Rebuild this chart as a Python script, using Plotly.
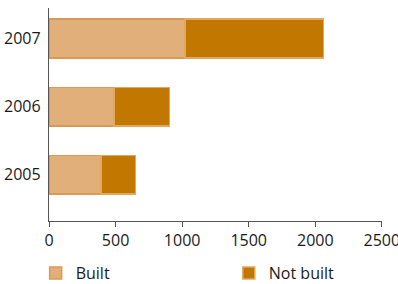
import plotly.graph_objects as go

years = ["2005", "2006", "2007"]
built = [390, 490, 1020]
not_built = [260, 415, 1040]
x_ticks = [0, 500, 1000, 1500, 2000, 2500]

fig = go.Figure()
fig.add_trace(go.Bar(
    y=years, x=built, orientation="h", name="Built",
    marker=dict(color="#e1b07a", line=dict(color="#d99a55", width=1.5)),
    width=0.57, legend="legend",
))
fig.add_trace(go.Bar(
    y=years, x=not_built, orientation="h", name="Not built",
    marker=dict(color="#c27700", line=dict(color="#e2a860", width=1.5)),
    width=0.57, legend="legend2",
))

font = "Open Sans, Noto Sans, sans-serif"
leg = dict(
    xanchor="left", yanchor="middle", y=-0.245,
    font=dict(size=16), bgcolor="rgba(0,0,0,0)",
)
fig.update_layout(
    barmode="stack",
    width=398, height=284,
    margin=dict(l=49, r=16, t=8, b=63, autoexpand=False),
    paper_bgcolor="white", plot_bgcolor="white",
    font=dict(family=font, size=16, color="#1a1a1a"),
    showlegend=True,
    legend=dict(x=-0.04, **leg),
    legend2=dict(x=0.54, **leg),
    xaxis=dict(
        range=[0, 2501], tickvals=x_ticks, ticktext=[str(v) for v in x_ticks],
        showgrid=False, zeroline=False, showline=True, linecolor="#555555",
        linewidth=1, ticks="outside", ticklen=5, tickcolor="#555555",
        tickfont=dict(size=16), automargin=False, ticklabeloverflow="allow",
    ),
    yaxis=dict(
        range=[-0.68, 2.45], showgrid=False, zeroline=False, showline=True,
        linecolor="#555555", linewidth=1, ticks="", ticklen=0,
        tickfont=dict(size=16), ticksuffix=" ", automargin=False,
    ),
)
fig.write_html(
    "out.html",
    config={"displayModeBar": False},
    post_script="document.body.style.margin='0';document.body.style.overflow='hidden';",
)
